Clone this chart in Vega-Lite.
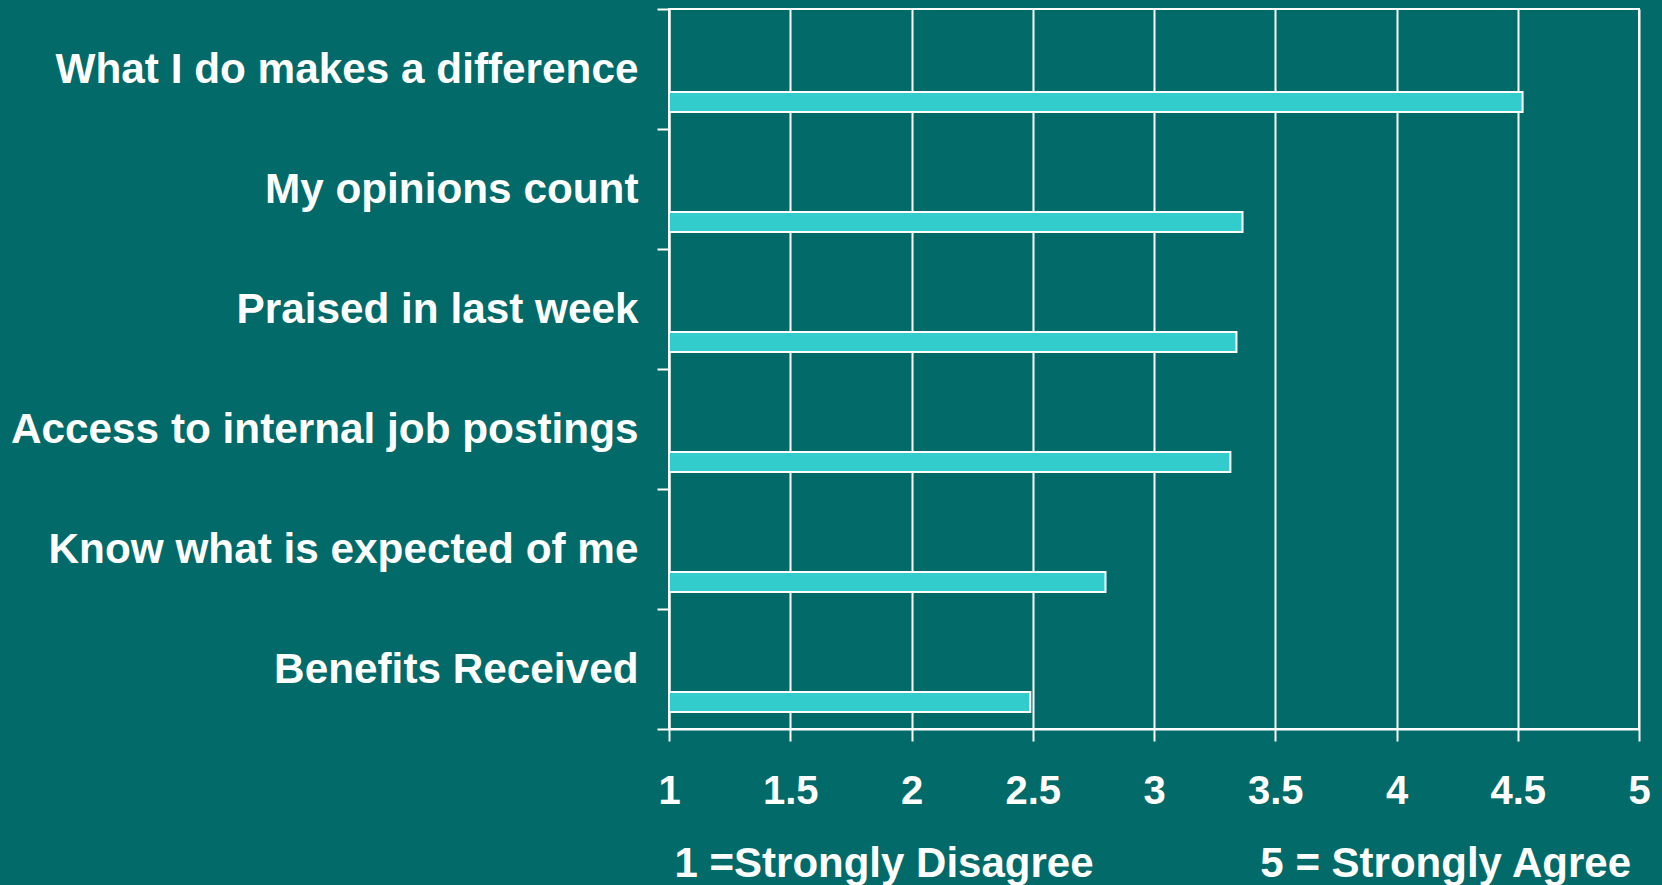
{
  "$schema": "https://vega.github.io/schema/vega-lite/v6.json",
  "autosize": {"type": "none"},
  "width": 970,
  "height": 720,
  "padding": {"left": 669, "top": 9, "right": 23, "bottom": 156},
  "background": "#026a68",
  "data": {
    "values": [
      {"item": "What I do makes a difference", "score": 4.52},
      {"item": "My opinions count", "score": 3.365},
      {"item": "Praised in last week", "score": 3.34},
      {"item": "Access to internal job postings", "score": 3.315},
      {"item": "Know what is expected of me", "score": 2.8},
      {"item": "Benefits Received", "score": 2.49}
    ]
  },
  "mark": {
    "type": "bar",
    "fill": "#33cccc",
    "stroke": "#ffffff",
    "strokeWidth": 2,
    "height": 20,
    "yOffset": 33
  },
  "encoding": {
    "y": {
      "field": "item",
      "type": "nominal",
      "sort": null,
      "scale": {"paddingInner": 0, "paddingOuter": 0},
      "axis": {
        "title": null,
        "domainColor": "#ffffff",
        "domainWidth": 2,
        "tickColor": "#ffffff",
        "tickWidth": 2,
        "tickSize": 12,
        "tickBand": "extent",
        "labelColor": "#ffffff",
        "labelFont": "Liberation Sans",
        "labelFontWeight": "bold",
        "labelFontSize": 42.3,
        "labelPadding": 19,
        "labelLimit": 2000,
        "labelAlign": "right",
        "labelBaseline": "middle"
      }
    },
    "x": {
      "field": "score",
      "type": "quantitative",
      "scale": {"domain": [1, 5], "nice": false, "zero": false},
      "axis": {
        "values": [1, 1.5, 2, 2.5, 3, 3.5, 4, 4.5, 5],
        "format": "~g",
        "grid": true,
        "gridColor": "#ffffff",
        "gridWidth": 2,
        "gridOpacity": 1,
        "domainColor": "#ffffff",
        "domainWidth": 2,
        "tickColor": "#ffffff",
        "tickWidth": 2,
        "tickSize": 12,
        "labelColor": "#ffffff",
        "labelFont": "Liberation Sans",
        "labelFontWeight": "bold",
        "labelFontSize": 40,
        "labelBaseline": "alphabetic",
        "labelPadding": 62,
        "labelFlush": false,
        "labelOverlap": false,
        "title": "1 =Strongly Disagree\u00a0\u00a0\u00a0\u00a0\u00a0\u00a0\u00a0\u00a0\u00a0\u00a0\u00a0\u00a0\u00a0\u00a0\u200a5 = Strongly Agree",
        "titleColor": "#ffffff",
        "titleFont": "Liberation Sans",
        "titleFontWeight": "bold",
        "titleFontSize": 42,
        "titleAnchor": "start",
        "titleAlign": "left",
        "titleBaseline": "alphabetic",
        "titleX": 5,
        "titleY": 147,
        "titleLimit": 3000
      }
    },
    "x2": {"datum": 1}
  },
  "config": {
    "view": {"stroke": "#ffffff", "strokeWidth": 2, "fill": null}
  }
}
